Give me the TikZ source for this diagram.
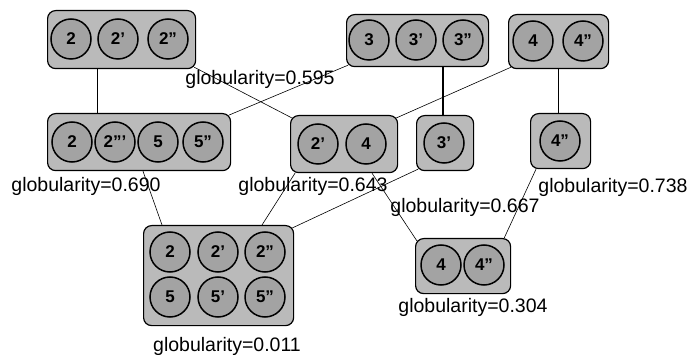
\documentclass[tikz,border=0pt]{standalone}
\usepackage{fontspec}
\setmainfont{Liberation Sans}
\usetikzlibrary{backgrounds}
\begin{document}
\begin{tikzpicture}[x=1pt,y=-1pt,
  grp/.style={draw=black, line width=1.2pt, rounded corners=8pt, fill=black!27,
              inner sep=0pt, anchor=north west},
  dom/.style={circle, draw=black, line width=1.5pt, fill=black!36, minimum size=40pt,
              inner sep=0pt, font=\fontsize{17}{17}\selectfont\bfseries},
  glob/.style={font=\fontsize{19.5}{20}\selectfont, inner sep=0pt},
  link/.style={draw=black, line width=0.6pt},
  strong/.style={draw=black, line width=2.6pt}]
\useasboundingbox (0,0) rectangle (690,355);

% groups of domains
\node[grp, minimum width=148pt, minimum height=58pt] (A) at (47,10) {};
\node[grp, minimum width=142pt, minimum height=52pt] (B) at (346,14) {};
\node[grp, minimum width=100pt, minimum height=54pt] (C) at (508,14) {};
\node[grp, minimum width=183pt, minimum height=57pt] (D) at (47,113) {};
\node[grp, minimum width=107pt, minimum height=57pt] (E) at (290,115) {};
\node[grp, minimum width=57pt,  minimum height=55pt] (F) at (416,115) {};
\node[grp, minimum width=60pt,  minimum height=55pt] (G) at (530,113) {};
\node[grp, minimum width=150pt, minimum height=100pt] (H) at (143,225) {};
\node[grp, minimum width=95pt,  minimum height=55pt] (I) at (415,238) {};

% domains
\node[dom] (a1) at (71,39)  {2};
\node[dom] (a2) at (118,39) {2'};
\node[dom] (a3) at (168,39) {2''};

\node[dom] (b1) at (369,40) {3};
\node[dom] (b2) at (416,40) {3'};
\node[dom] (b3) at (463,40) {3''};

\node[dom] (c1) at (533,41) {4};
\node[dom] (c2) at (583,41) {4''};

\node[dom] (d1) at (72,142)  {2};
\node[dom] (d2) at (115,142) {2'''};
\node[dom] (d3) at (158,142) {5};
\node[dom] (d4) at (203,142) {5''};

\node[dom] (e1) at (318,144) {2'};
\node[dom] (e2) at (366,144) {4};

\node[dom] (f1) at (444,143) {3'};

\node[dom] (g1) at (560,141) {4''};

\node[dom] (h1) at (170,252) {2};
\node[dom] (h2) at (218,252) {2'};
\node[dom] (h3) at (265,252) {2''};
\node[dom] (h4) at (170,297) {5};
\node[dom] (h5) at (218,297) {5'};
\node[dom] (h6) at (265,297) {5''};

\node[dom] (i1) at (441,265) {4};
\node[dom] (i2) at (484,265) {4''};

% links between groups
\begin{scope}[on background layer]
\draw[link] ([xshift=50pt]A.south west) -- ([xshift=50pt]D.north west);
\draw[link] ([shift={(-2pt,2pt)}]A.south east) -- ([shift={(2pt,-3pt)}]E.north west);
\draw[link] ([shift={(2pt,2pt)}]B.south west) -- ([shift={(-2pt,-2pt)}]D.north east);
\draw[strong] ([xshift=97pt]B.south west) -- ([xshift=27pt]F.north west);
\draw[link] ([shift={(3pt,2pt)}]C.south west) -- ([shift={(-2pt,-3pt)}]E.north east);
\draw[link] ([xshift=50pt]C.south west) -- ([xshift=28pt]G.north west);
\draw[link] ([xshift=96pt]D.south west) -- ([xshift=19pt]H.north west);
\draw[link] ([xshift=5pt]E.south west) -- ([xshift=119pt]H.north west);
\draw[link] ([shift={(2pt,2pt)}]F.south west) -- ([shift={(-2pt,-3pt)}]H.north east);
\draw[link] ([xshift=82pt]E.south west) -- ([shift={(2pt,-3pt)}]I.north west);
\draw[link] ([xshift=6pt]G.south west) -- ([xshift=-7pt]I.north east);
\end{scope}

% globularity values
\node[glob] (gA) at (260,79)  {globularity=0.595};
\node[glob] (gD) at (86,186)  {globularity=0.690};
\node[glob] (gE) at (313,186) {globularity=0.643};
\node[glob] (gF) at (465,207) {globularity=0.667};
\node[glob] (gG) at (613,187) {globularity=0.738};
\node[glob] (gI) at (473,307) {globularity=0.304};
\node[glob] (gH) at (227,346) {globularity=0.011};
\end{tikzpicture}
\end{document}
